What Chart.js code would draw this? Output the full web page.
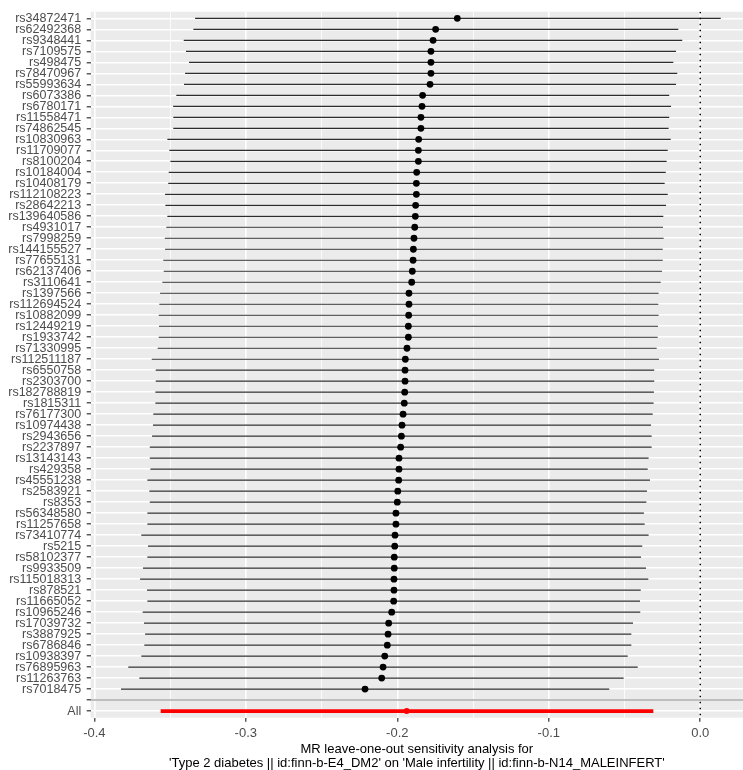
<!DOCTYPE html>
<html>
<head>
<meta charset="utf-8">
<title>MR leave-one-out sensitivity analysis</title>
<script src="https://cdn.jsdelivr.net/npm/chart.js@4.4.1/dist/chart.umd.min.js"></script>
<style>
  html, body { margin: 0; padding: 0; background: #ffffff; }
  #wrap { width: 743px; height: 770px; }
</style>
</head>
<body>
<div id="wrap"><canvas id="looChart"></canvas></div>
<script>
// SNPs, top to bottom as in the plot
const snps = [
    'rs34872471', 'rs62492368', 'rs9348441', 'rs7109575', 'rs498475', 'rs78470967', 'rs55993634',
    'rs6073386', 'rs6780171', 'rs11558471', 'rs74862545', 'rs10830963', 'rs11709077', 'rs8100204',
    'rs10184004', 'rs10408179', 'rs112108223', 'rs28642213', 'rs139640586', 'rs4931017', 'rs7998259',
    'rs144155527', 'rs77655131', 'rs62137406', 'rs3110641', 'rs1397566', 'rs112694524', 'rs10882099',
    'rs12449219', 'rs1933742', 'rs71330995', 'rs112511187', 'rs6550758', 'rs2303700', 'rs182788819',
    'rs1815311', 'rs76177300', 'rs10974438', 'rs2943656', 'rs2237897', 'rs13143143', 'rs429358',
    'rs45551238', 'rs2583921', 'rs8353', 'rs56348580', 'rs11257658', 'rs73410774', 'rs5215',
    'rs58102377', 'rs9933509', 'rs115018313', 'rs878521', 'rs11665052', 'rs10965246', 'rs17039732',
    'rs3887925', 'rs6786846', 'rs10938397', 'rs76895963', 'rs11263763', 'rs7018475'
];

// leave-one-out estimates
const beta = [
    -0.1604, -0.1747, -0.1764, -0.1778, -0.1778, -0.1778, -0.1784,
    -0.1833, -0.1837, -0.1844, -0.1844, -0.1859, -0.1861, -0.1861,
    -0.1872, -0.1874, -0.1874, -0.1879, -0.1881, -0.1885, -0.1890,
    -0.1894, -0.1896, -0.1901, -0.1905, -0.1923, -0.1923, -0.1925,
    -0.1927, -0.1927, -0.1936, -0.1947, -0.1949, -0.1949, -0.1951,
    -0.1954, -0.1962, -0.1969, -0.1973, -0.1978, -0.1989, -0.1989,
    -0.1991, -0.1997, -0.2000, -0.2009, -0.2009, -0.2015, -0.2017,
    -0.2020, -0.2020, -0.2022, -0.2022, -0.2024, -0.2037, -0.2057,
    -0.2061, -0.2066, -0.2083, -0.2094, -0.2103, -0.2213
];

const ciLow = [
    -0.3335, -0.3346, -0.3410, -0.3395, -0.3375, -0.3401, -0.3408,
    -0.3459, -0.3480, -0.3479, -0.3479, -0.3518, -0.3505, -0.3498,
    -0.3509, -0.3512, -0.3533, -0.3531, -0.3518, -0.3525, -0.3535,
    -0.3533, -0.3545, -0.3542, -0.3551, -0.3566, -0.3571, -0.3575,
    -0.3573, -0.3575, -0.3582, -0.3621, -0.3595, -0.3595, -0.3597,
    -0.3597, -0.3611, -0.3613, -0.3619, -0.3634, -0.3634, -0.3630,
    -0.3650, -0.3637, -0.3634, -0.3650, -0.3650, -0.3690, -0.3646,
    -0.3650, -0.3679, -0.3698, -0.3652, -0.3650, -0.3681, -0.3672,
    -0.3665, -0.3670, -0.3690, -0.3776, -0.3703, -0.3824
];

const ciHigh = [
     0.0135, -0.0145, -0.0119, -0.0160, -0.0178, -0.0152, -0.0160,
    -0.0205, -0.0193, -0.0205, -0.0209, -0.0195, -0.0215, -0.0222,
    -0.0228, -0.0235, -0.0215, -0.0226, -0.0244, -0.0246, -0.0242,
    -0.0248, -0.0248, -0.0253, -0.0261, -0.0275, -0.0277, -0.0275,
    -0.0279, -0.0281, -0.0288, -0.0273, -0.0304, -0.0304, -0.0306,
    -0.0308, -0.0314, -0.0325, -0.0321, -0.0321, -0.0341, -0.0347,
    -0.0332, -0.0352, -0.0356, -0.0372, -0.0367, -0.0341, -0.0383,
    -0.0391, -0.0358, -0.0343, -0.0393, -0.0398, -0.0396, -0.0444,
    -0.0455, -0.0455, -0.0479, -0.0413, -0.0506, -0.0601
];

// overall estimate
const allBeta = -0.1938;
const allLow = -0.3562;
const allHigh = -0.0310;

const xMajorTicks = [-0.4, -0.3, -0.2, -0.1, 0.0];
const xMinorTicks = [-0.35, -0.25, -0.15, -0.05];
const xLimits = [-0.4024, 0.0282];

const rowLabels = snps.concat(['', 'All']);
const blankRow = snps.length;
const allRow = snps.length + 1;
const yLimits = [-0.6, allRow + 0.6];

const axisGrey = '#4d4d4d';
const fontFamily = '"Liberation Sans", Arial, Helvetica, sans-serif';

// grey panel like ggplot theme_grey
const panelBackground = {
    id: 'panelBackground',
    beforeDraw(chart) {
        const { ctx, chartArea } = chart;
        ctx.save();
        ctx.fillStyle = '#ebebeb';
        ctx.fillRect(chartArea.left, chartArea.top, chartArea.right - chartArea.left, chartArea.bottom - chartArea.top);
        ctx.restore();
    }
};

document.addEventListener('DOMContentLoaded', function () {
    const ctx = document.getElementById('looChart').getContext('2d');

    const errorBars = snps.map((snp, i) => ({
        label: snp,
        data: [{ x: ciLow[i], y: i }, { x: ciHigh[i], y: i }],
        showLine: true,
        borderColor: 'rgba(0, 0, 0, 0.82)',
        borderWidth: 1.2,
        pointRadius: 0,
        order: 2
    }));

    const datasets = [
        {
            label: 'estimate',
            data: beta.map((b, i) => ({ x: b, y: i })),
            backgroundColor: '#000000',
            borderWidth: 0,
            pointRadius: 3.4,
            order: 0
        },
        {
            label: 'All estimate',
            data: [{ x: allBeta, y: allRow }],
            backgroundColor: '#ff0000',
            borderWidth: 0,
            pointRadius: 3,
            order: 0
        },
        {
            label: 'separator',
            data: [{ x: xLimits[0], y: blankRow }, { x: xLimits[1], y: blankRow }],
            showLine: true,
            borderColor: '#bebebe',
            borderWidth: 2,
            pointRadius: 0,
            order: 1
        },
        {
            label: 'All',
            data: [{ x: allLow, y: allRow }, { x: allHigh, y: allRow }],
            showLine: true,
            borderColor: '#ff0000',
            borderWidth: 3.6,
            pointRadius: 0,
            order: 2
        }
    ].concat(errorBars, [
        {
            label: 'null',
            data: [{ x: 0, y: yLimits[0] }, { x: 0, y: yLimits[1] }],
            showLine: true,
            borderColor: '#000000',
            borderWidth: 1.5,
            borderDash: [1.5, 4.5],
            pointRadius: 0,
            order: 3
        }
    ]);

    const looChart = new Chart(ctx, {
        type: 'scatter',
        data: { datasets: datasets },
        plugins: [panelBackground],
        options: {
            responsive: true,
            maintainAspectRatio: false,
            animation: false,
            layout: { autoPadding: false, padding: { top: 11, left: 0, right: 0, bottom: 0 } },
            plugins: {
                legend: { display: false },
                tooltip: { enabled: false }
            },
            scales: {
                x: {
                    type: 'linear',
                    min: xLimits[0],
                    max: xLimits[1],
                    afterBuildTicks: function (scale) {
                        scale.ticks = xMajorTicks.map(v => ({ value: v, major: true }))
                            .concat(xMinorTicks.map(v => ({ value: v, major: false })))
                            .sort((a, b) => a.value - b.value);
                    },
                    afterFit: function (scale) { scale.height = 52.3; },
                    border: { display: false },
                    grid: {
                        color: '#ffffff',
                        lineWidth: c => (c.tick && c.tick.major ? 1.6 : 0.8),
                        drawTicks: true,
                        tickLength: 4,
                        tickWidth: 1.2,
                        tickColor: c => (c.tick && c.tick.major ? '#333333' : 'rgba(0,0,0,0)')
                    },
                    ticks: {
                        autoSkip: false,
                        maxRotation: 0,
                        padding: 4,
                        color: axisGrey,
                        font: { family: fontFamily, size: 13 },
                        callback: function (value, index, ticks) {
                            return ticks[index].major ? value.toFixed(1) : '';
                        }
                    },
                    title: {
                        display: true,
                        text: [
                            'MR leave-one-out sensitivity analysis for',
                            "'Type 2 diabetes || id:finn-b-E4_DM2' on 'Male infertility || id:finn-b-N14_MALEINFERT'"
                        ],
                        color: '#000000',
                        font: { family: fontFamily, size: 13, lineHeight: '14px' },
                        padding: { top: 0, bottom: 0 }
                    }
                },
                y: {
                    type: 'linear',
                    reverse: true,
                    min: yLimits[0],
                    max: yLimits[1],
                    afterBuildTicks: function (scale) {
                        scale.ticks = rowLabels.map((label, i) => ({ value: i }));
                    },
                    afterFit: function (scale) { scale.width = 90.7; },
                    border: { display: false },
                    grid: {
                        color: '#ffffff',
                        lineWidth: 1.6,
                        drawTicks: true,
                        tickLength: 4,
                        tickWidth: 1.2,
                        tickColor: '#333333'
                    },
                    ticks: {
                        autoSkip: false,
                        padding: 5.5,
                        color: axisGrey,
                        font: { family: fontFamily, size: 12.5, lineHeight: 1 },
                        callback: function (value) {
                            return rowLabels[Math.round(value)];
                        }
                    }
                }
            }
        }
    });
});
</script>
</body>
</html>
